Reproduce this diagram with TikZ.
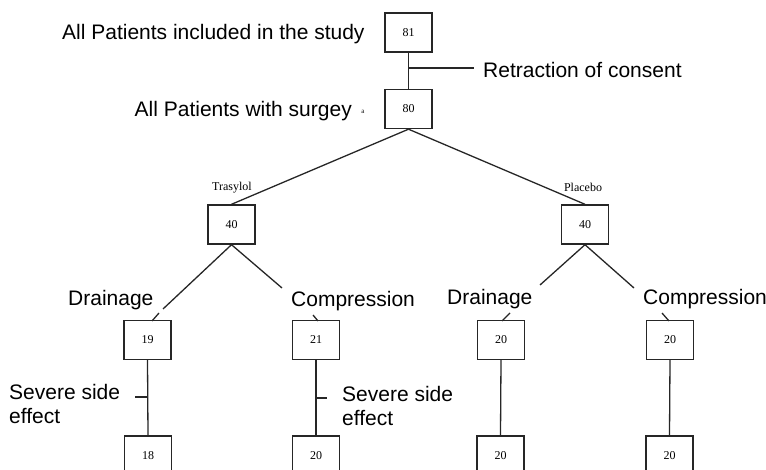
\documentclass[tikz,border=0pt]{standalone}
\usepackage{fontspec}
\setmainfont{Liberation Sans}
\newfontfamily\serifnum{Liberation Serif}
\begin{document}
\begin{tikzpicture}[x=1pt,y=-1pt,
  numbox/.style={draw=black!85,line width=1.4pt,minimum width=47pt,minimum height=39pt,inner sep=0pt,font=\serifnum\fontsize{12}{14}\selectfont},
  conn/.style={draw=black!85,line width=1.3pt},
  bigtxt/.style={inner sep=0pt,font=\fontsize{21}{24}\selectfont,align=left},
  armtxt/.style={inner sep=0pt,font=\serifnum\fontsize{12}{14}\selectfont}]
\useasboundingbox (0,0) rectangle (766,470);
\clip (0,0) rectangle (766,470);
% boxes
\node[numbox] (b81) at (408.5,32.5) {81};
\node[numbox] (b80) at (408.5,109) {80};
\node[numbox] (bT) at (231.5,224.5) {40};
\node[numbox] (bP) at (585,224.5) {40};
\node[numbox] (b19) at (147.5,340) {19};
\node[numbox] (b21) at (316,340) {21};
\node[numbox] (b20a) at (501,340) {20};
\node[numbox] (b20b) at (670,340) {20};
\node[numbox] (b18) at (148,455.5) {18};
\node[numbox] (b20c) at (316,455.5) {20};
\node[numbox] (b20d) at (500.5,455.5) {20};
\node[numbox] (b20e) at (669.5,455.5) {20};
% texts
\node[bigtxt,anchor=base west] (tall) at (62,40) {All Patients included in the study};
\node[bigtxt,anchor=base east] (tsurg) at (352,117) {All Patients with surgey};
\node[inner sep=0pt,font=\serifnum\fontsize{7}{8}\selectfont,anchor=base] (ta) at (363,114) {a};
\node[bigtxt,anchor=base west] (tret) at (483,77.5) {Retraction of consent};
\node[armtxt,anchor=base] (ttras) at (232,191) {Trasylol};
\node[armtxt,anchor=base] (tplac) at (583,192) {Placebo};
\node[bigtxt,anchor=base west] (td1) at (68,306) {Drainage};
\node[bigtxt,anchor=base west] (tc1) at (291,307) {Compression};
\node[bigtxt,anchor=base west] (td2) at (447,305) {Drainage};
\node[bigtxt,anchor=base west] (tc2) at (643,305) {Compression};
\node[bigtxt,anchor=north west] (ts1) at (9,384) {Severe side\\effect};
\node[bigtxt,anchor=north west] (ts2) at (342,386) {Severe side\\effect};
% coordinates for free ends
\coordinate (rj) at (408.5,68);
\coordinate (re) at (474,68);
\coordinate (e1) at (163,309);
\coordinate (s1a) at (159,313);
\coordinate (s1b) at (152,321);
\coordinate (e2) at (282,288);
\coordinate (s2a) at (313,315);
\coordinate (s2b) at (318,321);
\coordinate (e3) at (540,285);
\coordinate (s3a) at (510,313);
\coordinate (s3b) at (502,321);
\coordinate (e4) at (634,288);
\coordinate (s4a) at (662,313);
\coordinate (s4b) at (669,321);
\coordinate (k1a) at (135,397);
\coordinate (k1b) at (148,397);
\coordinate (k2a) at (316,398);
\coordinate (k2b) at (327,398);
% connectors
\draw[conn] (b81) -- (b80);
\draw[conn] (rj) -- (re);
\draw[conn] (b80.south) -- (bT.north);
\draw[conn] (b80.south) -- (bP.north);
\draw[conn] (bT.south) -- (e1);
\draw[conn] (s1a) -- (s1b);
\draw[conn] (bT.south) -- (e2);
\draw[conn] (s2a) -- (s2b);
\draw[conn] (bP.south) -- (e3);
\draw[conn] (s3a) -- (s3b);
\draw[conn] (bP.south) -- (e4);
\draw[conn] (s4a) -- (s4b);
\draw[conn] (b19.south) -- (b18.north);
\draw[conn] (b21.south) -- (b20c.north);
\draw[conn] (b20a.south) -- (b20d.north);
\draw[conn] (b20b.south) -- (b20e.north);
\draw[conn] (k1a) -- (k1b);
\draw[conn] (k2a) -- (k2b);
\end{tikzpicture}
\end{document}
